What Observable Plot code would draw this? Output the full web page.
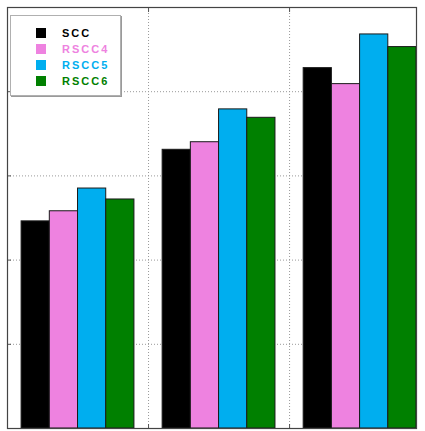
<!DOCTYPE html>
<html>
<head>
<meta charset="utf-8">
<script src="https://cdn.jsdelivr.net/npm/d3@7"></script>
<script src="https://cdn.jsdelivr.net/npm/@observablehq/plot@0.6"></script>
<style>
  html, body { margin: 0; padding: 0; background: #fff; }
  #wrap { position: relative; width: 425px; height: 431px; }
  #legend {
    position: absolute; left: 10px; top: 15px; width: 109px; height: 79px;
    background: #fff; border: 1px solid #b0b0b0; box-shadow: 1px 1px 0 #9a9a9a;
    font-family: "Liberation Sans", Arial, sans-serif; font-size: 11px; font-weight: bold;
    letter-spacing: 2px;
  }
  .row { position: absolute; left: 0; height: 16px; width: 100%; }
  .sw { position: absolute; left: 25px; top: 3px; width: 10px; height: 10px; }
  .lab { position: absolute; left: 51px; top: 1px; line-height: 14px; }
</style>
</head>
<body>
<div id="wrap"></div>
<script>
// Grouped bar values for the three cases
const groups = [1, 2, 3];
const series = ["SCC", "RSCC4", "RSCC5", "RSCC6"];
const scc   = [2.46, 3.31, 4.28];
const rscc4 = [2.58, 3.40, 4.09];
const rscc5 = [2.85, 3.79, 4.68];
const rscc6 = [2.72, 3.69, 4.53];
const colors = ["#000000", "#ee82e0", "#00aeef", "#008000"];
const labelColors = ["#000000", "#ee82e0", "#00aeef", "#008000"];
const yGrid = [1, 2, 3, 4];
const xGrid = [1.5, 2.5];

const values = [scc, rscc4, rscc5, rscc6];
const barW = 0.2; // each bar spans 0.2 of a group unit (0.8 per group)
const rows = [];
groups.forEach((g, gi) => {
  series.forEach((s, si) => {
    const x1 = g - 0.4 + si * barW;
    rows.push({group: g, series: s, value: values[si][gi], x1, x2: x1 + barW});
  });
});

const tick = {tickSize: -4, tickFormat: () => "", label: null, stroke: "#555"};

const chart = Plot.plot({
  width: 425,
  height: 431,
  marginLeft: 7,
  marginTop: 7,
  marginRight: 9,
  marginBottom: 3,
  style: {background: "#fff"},
  x: {domain: [0.5, 3.4], axis: null},
  y: {domain: [0, 5], axis: null},
  color: {domain: series, range: colors},
  marks: [
    Plot.gridY(yGrid, {stroke: "#999", strokeOpacity: 1, strokeDasharray: "1,2"}),
    Plot.gridX(xGrid, {stroke: "#999", strokeOpacity: 1, strokeDasharray: "1,2"}),
    Plot.axisY(yGrid, {anchor: "left", ...tick}),
    Plot.axisY(yGrid, {anchor: "right", ...tick}),
    Plot.axisX(xGrid, {anchor: "bottom", ...tick}),
    Plot.axisX(xGrid, {anchor: "top", ...tick}),
    Plot.rectY(rows, {x1: "x1", x2: "x2", y1: 0, y2: "value", fill: "series", stroke: "#1a1a1a", strokeWidth: 1}),
    Plot.frame({stroke: "#444", strokeWidth: 1.2})
  ]
});

const wrap = document.getElementById("wrap");
wrap.appendChild(chart);

// Legend box in the upper-left corner of the axes
const legend = document.createElement("div");
legend.id = "legend";
series.forEach((s, i) => {
  const row = document.createElement("div");
  row.className = "row";
  row.style.top = (9 + i * 16) + "px";
  const sw = document.createElement("div");
  sw.className = "sw";
  sw.style.background = colors[i];
  const lab = document.createElement("div");
  lab.className = "lab";
  lab.style.color = labelColors[i];
  lab.textContent = s;
  row.appendChild(sw);
  row.appendChild(lab);
  legend.appendChild(row);
});
wrap.appendChild(legend);
</script>
</body>
</html>
